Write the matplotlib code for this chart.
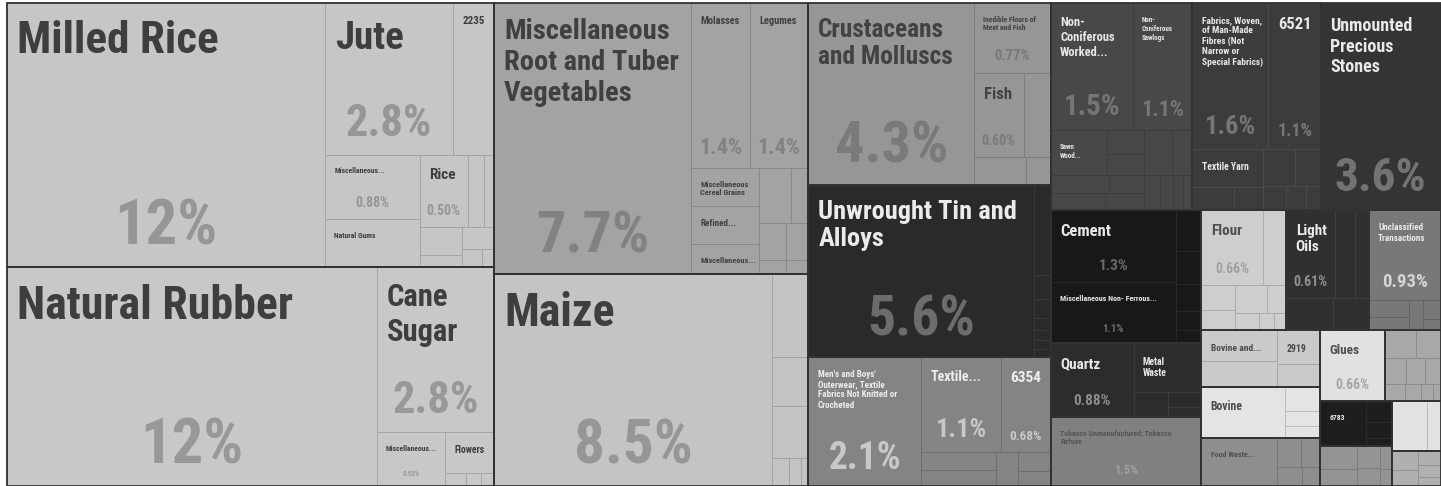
import matplotlib
matplotlib.use("Agg")
import matplotlib.pyplot as plt
from matplotlib import font_manager
from matplotlib.patches import Rectangle

# Export shares (%) by product, listed sector by sector.
# Empty labels are the small products that get no text in the map.
LABELS = [
    # rice, jute, gums
    "Milled Rice", "Jute", "2235", "Miscellaneous...", "Natural Gums", "Rice",
    "", "", "", "", "", "", "",
    # rubber, sugar, flowers
    "Natural Rubber", "Cane\nSugar", "Miscellaneous...", "Flowers", "", "", "",
    # roots, molasses, legumes, cereals
    "Miscellaneous\nRoot and Tuber\nVegetables", "Molasses", "Legumes",
    "Miscellaneous\nCereal Grains", "Refined...", "Miscellaneous...",
    "", "", "", "", "", "",
    # maize
    "Maize", "", "", "", "", "", "",
    # seafood
    "Crustaceans\nand Molluscs", "Inedible Flours of\nMeat and Fish", "Fish", "", "", "",
    # tin
    "Unwrought Tin and\nAlloys", "", "", "", "", "", "", "",
    # garments and textiles
    "Men's and Boys'\nOuterwear, Textile\nFabrics Not Knitted or\nCrocheted",
    "Textile...", "6354", "", "", "", "", "",
    # wood
    "Non-\nConiferous\nWorked...", "Non-\nConiferous\nSawlogs", "Sawn\nWood...",
    "", "", "", "", "", "", "", "", "", "", "", "",
    # fabrics
    "Fabrics, Woven,\nof Man-Made\nFibres (Not\nNarrow or\nSpecial Fabrics)",
    "6521", "Textile Yarn", "", "", "", "", "", "", "",
    # stones
    "Unmounted\nPrecious\nStones",
    # cement, non-ferrous
    "Cement", "Miscellaneous Non- Ferrous...", "", "", "", "", "",
    # quartz, metal waste
    "Quartz", "Metal\nWaste", "", "", "",
    # tobacco
    "Tobacco Unmanufactured; Tobacco\nRefuse",
    # flour
    "Flour", "", "", "", "", "", "", "", "",
    # light oils
    "Light\nOils", "", "", "", "",
    # unclassified
    "Unclassified\nTransactions", "", "", "", "", "",
    # bovine and 2919
    "Bovine and...", "", "2919", "",
    # bovine
    "Bovine", "", "", "",
    # food waste
    "Food Waste...", "", "", "", "",
    # glues
    "Glues",
    # mixed small products
    "", "", "", "", "", "", "", "", "",
    "6783", "", "", "",
    "", "", "", "", "", "",
    "", "",
    "", "", "", "", "",
]

SHARES = [
    12.1, 2.8, 0.90, 0.88, 0.66, 0.50, 0.17, 0.11, 0.17, 0.07, 0.10, 0.05, 0.03,
    11.7, 2.8, 0.53, 0.29, 0.04, 0.03, 0.025,
    7.7, 1.4, 1.4, 0.37, 0.37, 0.29, 0.26, 0.135, 0.144, 0.055, 0.123, 0.046,
    8.5, 0.44, 0.26, 0.27, 0.07, 0.05, 0.03,
    4.34, 0.77, 0.60, 0.33, 0.21, 0.10,
    5.6, 0.22, 0.06, 0.045, 0.03, 0.025, 0.02, 0.02,
    2.1, 1.1, 0.68, 0.20, 0.17, 0.11, 0.09, 0.07,
    1.5, 1.1, 0.36, 0.13, 0.11, 0.15, 0.09, 0.14, 0.10, 0.18, 0.13, 0.08, 0.07, 0.05, 0.05,
    1.6, 1.1, 0.39, 0.14, 0.10, 0.17, 0.14, 0.08, 0.07, 0.05,
    3.6,
    1.3, 1.1, 0.15, 0.12, 0.10, 0.07, 0.05,
    0.88, 0.48, 0.12, 0.07, 0.05,
    1.5,
    0.66, 0.25, 0.12, 0.10, 0.13, 0.08, 0.06, 0.04, 0.03,
    0.61, 0.25, 0.18, 0.22, 0.17,
    0.93, 0.10, 0.08, 0.06, 0.05, 0.03,
    0.33, 0.29, 0.21, 0.14,
    0.62, 0.12, 0.08, 0.06,
    0.52, 0.10, 0.08, 0.07, 0.05,
    0.66,
    0.12, 0.10, 0.08, 0.07, 0.06, 0.05, 0.04, 0.03, 0.02,
    0.30, 0.08, 0.06, 0.03,
    0.12, 0.09, 0.07, 0.06, 0.04, 0.03,
    0.25, 0.10,
    0.07, 0.06, 0.05, 0.04, 0.03,
]

# number of products in each sector block, in list order
GROUP_SIZES = [13, 7, 12, 7, 6, 8, 8, 15, 10, 1, 7, 5, 1, 9, 5, 6, 4, 4, 5, 1, 9, 4, 6, 2, 5]

# ---- styling -------------------------------------------------------------
GROUP_FILL = [198, 200, 163, 196, 150, 42, 132, 72, 60, 52, 24, 44, 128,
              206, 48, 120, 202, 228, 142, 225, 168, 30, 148, 226, 176]
GROUP_TITLE = [62, 62, 64, 62, 66, 235, 238, 232, 232, 232, 232, 232, 85,
               80, 235, 235, 75, 75, 80, 80, 80, 235, 80, 80, 80]
GROUP_PCT = [150, 152, 130, 150, 122, 108, 200, 118, 118, 115, 105, 140, 160,
             160, 145, 212, 160, 170, 170, 165, 140, 120, 120, 170, 140]

# (sector, product in sector) -> (title size, percentage size or None)
TEXT_SIZES = {
    (0, 0): (32.5, 45), (0, 1): (28, 32), (0, 2): (8, None), (0, 3): (5.5, 10),
    (0, 4): (5.5, None), (0, 5): (11, 10),
    (1, 0): (33, 45), (1, 1): (22, 32), (1, 2): (5.5, 5), (1, 3): (7, None),
    (2, 0): (20.5, 42), (2, 1): (7.5, 16), (2, 2): (7.5, 16), (2, 3): (6, None),
    (2, 4): (6.5, None), (2, 5): (6, None),
    (3, 0): (33, 44),
    (4, 0): (18.3, 42), (4, 1): (5.5, 10.5), (4, 2): (12, 10),
    (5, 0): (19, 40),
    (6, 0): (6.5, 27), (6, 1): (10, 19), (6, 2): (11, 9.5),
    (7, 0): (9, 21), (7, 1): (5, 16), (7, 2): (5, None),
    (8, 0): (6.8, 19), (8, 1): (12, 13), (8, 2): (7, None),
    (9, 0): (13, 34),
    (10, 0): (12, 11), (10, 1): (5.8, 8),
    (11, 0): (11, 11), (11, 1): (7, None),
    (12, 0): (5.7, 9),
    (13, 0): (11, 10),
    (14, 0): (11, 10),
    (15, 0): (6.5, 13.5),
    (16, 0): (6.8, None), (16, 2): (7, None),
    (17, 0): (8.5, None),
    (18, 0): (5.7, None),
    (19, 0): (9.5, 10),
    (21, 0): (5.5, None),
}


def H(*kids):
    return ("h", kids)


def V(*kids):
    return ("v", kids)


def G(k):
    return ("g", k)


# slice directions inside each sector block (indices are local to the block)
GROUP_TREES = [
    H(0, V(H(1, 2), H(V(3, 4), V(H(5, 6, 7), H(V(8, 9), V(10, H(11, 12))))))),
    H(0, V(1, H(2, V(3, H(4, 5, 6))))),
    H(0, V(H(1, 2), H(V(3, 4, 5), V(H(6, 7), H(V(8, 9), V(10, 11)))))),
    H(0, V(1, 2, 3, H(4, 5, 6))),
    H(0, V(1, H(2, 3), H(4, 5))),
    H(0, V(1, 2, 3, 4, 5, 6, 7)),
    H(0, V(H(1, 2), H(V(3, 4), 5, V(6, 7)))),
    V(H(0, 1), H(V(H(2, V(3, 4)), H(5, 6), H(7, 8)), V(H(9, 10), H(11, 12, 13, 14)))),
    V(H(0, 1), H(V(2, H(3, 4)), V(H(5, 6), H(7, 8, 9)))),
    0,
    H(V(0, 1), V(2, 3, 4, 5, 6)),
    H(0, V(1, H(2, V(3, 4)))),
    0,
    V(H(0, 1), H(V(2, 3), V(H(4, 5), H(6, 7, 8)))),
    V(H(0, 1, 2), H(3, 4)),
    V(0, H(V(1, 2), 3, V(4, 5))),
    H(V(0, 1), V(2, 3)),
    H(0, V(1, 2, 3)),
    H(0, V(H(1, 2), H(3, 4))),
    0,
    V(H(0, 1), H(2, 3, 4), H(5, 6, 7, 8)),
    H(0, V(1, 2, 3)),
    H(V(0, 1), V(2, 3), V(4, 5)),
    H(0, 1),
    H(V(0, 1), V(2, 3, 4)),
]

TREEMAP = H(
    V(G(0), G(1)),
    V(G(2), G(3)),
    V(G(4), G(5), G(6)),
    V(H(G(7), G(8), G(9)),
      H(V(G(10), G(11), G(12)),
        V(H(G(13), G(14), G(15)),
          H(V(G(16), G(17), G(18)),
            V(H(G(19), G(20)),
              H(V(G(21), G(22)), V(G(23), G(24)))))))),
)

START = [sum(GROUP_SIZES[:k]) for k in range(len(GROUP_SIZES))]
assert len(LABELS) == len(SHARES) == sum(GROUP_SIZES)


def node_total(node, start):
    if isinstance(node, int):
        return SHARES[start + node]
    kind, kids = node
    if kind == "g":
        return node_total(GROUP_TREES[kids], START[kids])
    return sum(node_total(k, start) for k in kids)


def place(node, x, y, w, h, start, group, out):
    """slice-and-dice: split the box along x ('h') or y ('v') by share"""
    if isinstance(node, int):
        out[start + node] = (x, y, w, h, group)
        return
    kind, kids = node
    if kind == "g":
        place(GROUP_TREES[kids], x, y, w, h, START[kids], kids, out)
        return
    vals = [node_total(k, start) for k in kids]
    tot = sum(vals)
    pos = 0.0
    for k, v in zip(kids, vals):
        f = v / tot
        if kind == "h":
            place(k, x + pos * w, y, f * w, h, start, group, out)
        else:
            place(k, x, y + pos * h, w, f * h, start, group, out)
        pos += f


def gray(v):
    v = max(0, min(255, v)) / 255
    return (v, v, v)


def pct_text(v):
    if v >= 10:
        return f"{v:.0f}%"
    if v >= 1:
        return f"{v:.1f}%"
    return f"{v:.2f}%"


installed = {f.name for f in font_manager.fontManager.ttflist}
FONT = next(n for n in ["Liberation Sans Narrow", "Roboto Condensed", "Roboto", "DejaVu Sans"]
            if n in installed)

W_PX, H_PX = 1441, 486
fig = plt.figure(figsize=(W_PX / 100, H_PX / 100), dpi=100)
fig.patch.set_facecolor("white")
ax = fig.add_axes([0, 0, 1, 1])
ax.set_xlim(0, W_PX)
ax.set_ylim(H_PX, 0)
ax.axis("off")

cells = {}
place(TREEMAP, 7, 3, W_PX - 7, H_PX - 3, 0, None, cells)

# product boxes
for i, (x, y, w, h, g) in cells.items():
    fill = GROUP_FILL[g]
    edge = fill * 0.82 if fill >= 70 else fill + 16
    ax.add_patch(Rectangle((x, y), w, h, facecolor=gray(fill),
                           edgecolor=gray(edge), linewidth=0.6))

# sector outlines
for g in range(len(GROUP_SIZES)):
    boxes = [cells[START[g] + j] for j in range(GROUP_SIZES[g])]
    x0 = min(b[0] for b in boxes)
    y0 = min(b[1] for b in boxes)
    x1 = max(b[0] + b[2] for b in boxes)
    y1 = max(b[1] + b[3] for b in boxes)
    ax.add_patch(Rectangle((x0, y0), x1 - x0, y1 - y0, facecolor="none",
                           edgecolor=gray(50), linewidth=1.3))

# names and shares
for (g, j), (tsize, psize) in TEXT_SIZES.items():
    i = START[g] + j
    x, y, w, h, _ = cells[i]
    em = tsize * 100 / 72
    ax.text(x + 9 + 0.03 * em, y + 12 + 0.12 * em, LABELS[i], fontsize=tsize,
            fontweight="bold", family=FONT, color=gray(GROUP_TITLE[g]),
            ha="left", va="top", linespacing=1.18)
    if psize:
        ax.text(x + w / 2, y + h - (9 + 0.3 * psize), pct_text(SHARES[i]),
                fontsize=psize, fontweight="bold", family=FONT,
                color=gray(GROUP_PCT[g]), ha="center", va="baseline")

fig.savefig("out.png", dpi=100, facecolor=fig.get_facecolor())
